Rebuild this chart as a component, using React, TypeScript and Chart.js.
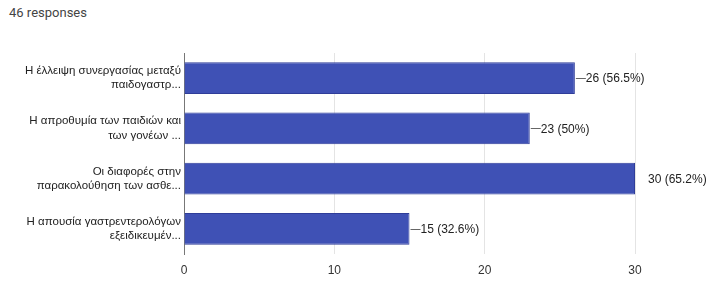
import React, { useEffect, useRef } from "react";
import { Chart, registerables } from "chart.js";

Chart.register(...registerables);

const categories: string[][] = [
  ["Η έλλειψη συνεργασίας μεταξύ", "παιδογαστρ..."],
  ["Η απροθυμία των παιδιών και", "των γονέων ..."],
  ["Οι διαφορές στην", "παρακολούθηση των ασθε..."],
  ["Η απουσία γαστρεντερολόγων", "εξειδικευμέν..."],
];
const counts: number[] = [26, 23, 30, 15];
const percents: string[] = ["56.5%", "50%", "65.2%", "32.6%"];
const totalResponses = 46;
const xTicks: number[] = [0, 10, 20, 30];

const FONT = "'Liberation Sans', Arial, sans-serif";

const valueLabels = {
  id: "valueLabels",
  afterDatasetsDraw(chart: any) {
    const ctx = chart.ctx;
    const meta = chart.getDatasetMeta(0);
    const xMax = chart.scales.x.max;
    ctx.save();
    ctx.font = `12px ${FONT}`;
    ctx.textBaseline = "middle";
    ctx.textAlign = "left";
    meta.data.forEach((bar: any, i: number) => {
      const v = counts[i];
      const text = `${v} (${percents[i]})`;
      const x = bar.x;
      const y = bar.y;
      ctx.fillStyle = "#222";
      if (v >= xMax) {
        ctx.fillText(text, x + 13, y + 1);
      } else {
        ctx.strokeStyle = "#666";
        ctx.lineWidth = 1;
        ctx.beginPath();
        ctx.moveTo(x + 1, Math.round(y) + 0.5);
        ctx.lineTo(x + 11, Math.round(y) + 0.5);
        ctx.stroke();
        ctx.fillText(text, x + 11, y + 1);
      }
    });
    ctx.restore();
  },
};

export default function App() {
  const ref = useRef<HTMLCanvasElement | null>(null);

  useEffect(() => {
    document.body.style.margin = "0";
    const canvas = ref.current!;
    const chart = new Chart(canvas, {
      type: "bar",
      data: {
        labels: categories,
        datasets: [
          {
            data: counts,
            backgroundColor: "#3f51b5",
            borderColor: "#2f3d99",
            borderWidth: 1,
            categoryPercentage: 1,
            barPercentage: 0.63,
          },
        ],
      },
      options: {
        indexAxis: "y",
        responsive: false,
        animation: false,
        layout: { padding: { top: 53, right: 78, bottom: 0, left: 0 } },
        plugins: {
          legend: { display: false },
          tooltip: { enabled: false },
        },
        scales: {
          x: {
            min: xTicks[0],
            max: xTicks[xTicks.length - 1],
            afterBuildTicks: (scale: any) => {
              scale.ticks = xTicks.map((v) => ({ value: v }));
            },
            afterFit: (scale: any) => {
              scale.height = 33;
            },
            grid: { color: "#e4e4e4", drawTicks: false },
            border: { display: false },
            ticks: {
              padding: 9,
              color: "#333",
              font: { family: FONT, size: 12 },
            },
          },
          y: {
            afterFit: (scale: any) => {
              scale.width = 184;
            },
            grid: { display: false, drawTicks: false, tickLength: 0 },
            border: { display: true, color: "#777", width: 1 },
            ticks: {
              padding: 3,
              color: "#222",
              font: { family: FONT, size: 11.5, lineHeight: 1.25 },
            },
          },
        },
      },
      plugins: [valueLabels],
    });
    return () => chart.destroy();
  }, []);

  return (
    <div style={{ position: "relative", width: 713, height: 287, background: "#fff" }}>
      <div
        style={{
          position: "absolute",
          left: 9,
          top: 5,
          fontFamily: "Roboto, 'Liberation Sans', sans-serif",
          fontSize: 13,
          color: "#444",
        }}
      >
        {totalResponses} responses
      </div>
      <canvas
        ref={ref}
        width={713}
        height={287}
        style={{ position: "absolute", left: 0, top: 0 }}
      />
    </div>
  );
}
